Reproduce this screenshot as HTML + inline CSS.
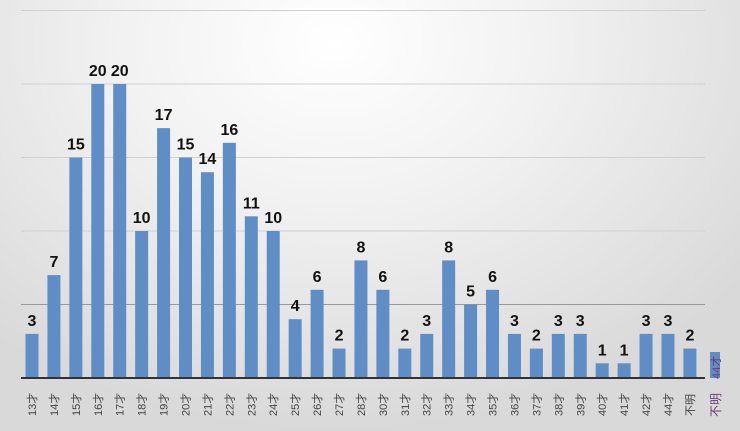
<!DOCTYPE html>
<html><head><meta charset="utf-8"><style>
html,body{margin:0;padding:0;}
body{width:740px;height:431px;overflow:hidden;background:radial-gradient(ellipse 70% 90% at 45% 10%,#ffffff 0%,#f2f2f2 40%,#d9d9d9 100%);}
svg{display:block}
</style></head><body>
<svg width="740" height="431" xmlns="http://www.w3.org/2000/svg">
<g stroke="#d0d0d0" stroke-width="1">
<line x1="21" x2="705" y1="10.5" y2="10.5"/>
<line x1="21" x2="705" y1="84" y2="84"/>
<line x1="21" x2="705" y1="157.5" y2="157.5"/>
<line x1="21" x2="705" y1="231" y2="231"/>
<line x1="21" x2="705" y1="304.5" y2="304.5" stroke="#999"/>
</g>
<g id="bars" fill="#5f8ec6"></g>
<g id="vals" font-family="Liberation Sans, sans-serif" font-weight="bold" font-size="16" text-anchor="middle" fill="#111"></g>
<g id="labs" font-family="Liberation Sans, 'Noto Sans CJK JP', sans-serif" font-size="11" fill="#444"></g>
<line x1="21" x2="705" y1="378" y2="378" stroke="#333" stroke-width="2"/>
<rect x="710" y="352" width="10" height="26" fill="#5f8ec6"/>
<text transform="translate(720,379) rotate(-90)" font-family="Liberation Sans, sans-serif" font-size="11" fill="#6a3b7a">44才</text>
<text transform="translate(720,417) rotate(-90)" font-family="Liberation Sans, 'Noto Sans CJK JP', sans-serif" font-size="12" fill="#6a3b7a">不明</text>
</svg>
<script>
var cats=[];for(var i=13;i<=28;i++)cats.push(i+'才');for(var i=30;i<=42;i++)cats.push(i+'才');cats.push('44才');cats.push('不明');
var v=[3,7,15,20,20,10,17,15,14,16,11,10,4,6,2,8,6,2,3,8,5,6,3,2,3,3,1,1,3,3,2];
var ns='http://www.w3.org/2000/svg';
var b=document.getElementById('bars'),t=document.getElementById('vals'),l=document.getElementById('labs');
for(var i=0;i<v.length;i++){var cx=32+i*21.93;var h=v[i]*14.7;
var r=document.createElementNS(ns,'rect');r.setAttribute('x',cx-6.5);r.setAttribute('y',378-h);r.setAttribute('width',13);r.setAttribute('height',h);b.appendChild(r);
var tx=document.createElementNS(ns,'text');tx.setAttribute('x',cx);tx.setAttribute('y',378-h-8);tx.textContent=v[i];t.appendChild(tx);
var lb=document.createElementNS(ns,'text');lb.setAttribute('transform','translate('+(cx+4)+',416) rotate(-90)');lb.textContent=cats[i];l.appendChild(lb);}
</script>
</body></html>
